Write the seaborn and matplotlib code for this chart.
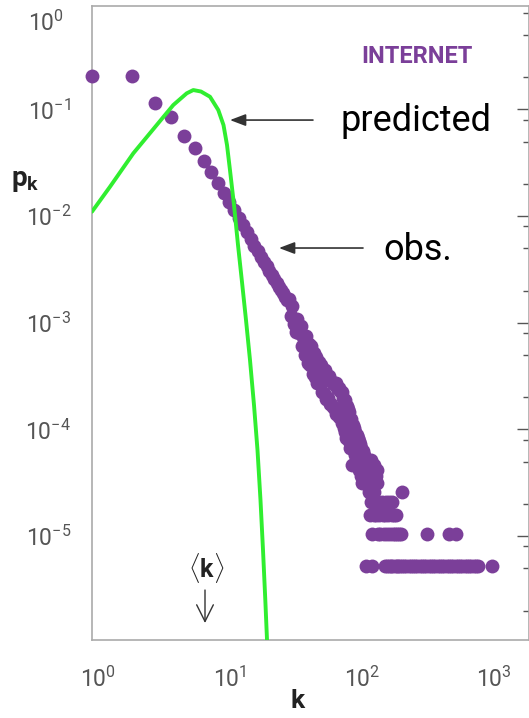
import numpy as np
import pandas as pd
import seaborn as sns
import matplotlib.pyplot as plt
from matplotlib.ticker import FixedLocator, LogLocator, NullFormatter
from matplotlib.transforms import ScaledTranslation

# ----------------------------
# Data
# ----------------------------
N_NODES = 192244  # nodes in the map; one node = the lowest row of dots

# every degree from 1 to 119 is present: number of nodes with that degree
body_degree = np.arange(1, 120)
body_count = [
    39400, 39900, 22170, 16400, 10810, 8280, 6290, 4960, 3940, 3176,   # 1-10
    2582, 2187, 1836, 1584, 1371, 1163, 1010, 900, 790, 715,            # 11-20
    650, 590, 540, 495, 455, 420, 390, 362, 338, 315,                   # 21-30
    319, 223, 274, 189, 156, 207, 154, 180, 117, 141,                   # 31-40
    95, 145, 80, 122, 78, 117, 63, 100, 60, 92,                         # 41-50
    52, 83, 51, 78, 43, 69, 42, 70, 37, 60,                             # 51-60
    38, 61, 33, 56, 33, 54, 31, 51, 30, 52,                             # 61-70
    27, 47, 29, 47, 25, 44, 25, 43, 22, 38,                             # 71-80
    20, 36, 18, 16, 32, 17, 30, 15, 28, 13,                             # 81-90
    24, 18, 13, 9, 21, 12, 20, 11, 18, 10,                              # 91-100
    17, 9, 16, 12, 15, 8, 14, 11, 7, 13,                                # 101-110
    9, 6, 12, 8, 11, 6, 10, 7, 9,                                       # 111-119
]

# sparse tail (k >= 120), only the degrees that occur
tail_degree = [
    120, 121, 122, 123, 124, 125, 126, 127, 128, 129, 130, 131, 132, 133,
    134, 135, 136, 137, 138, 139, 140, 142, 143, 144, 145, 146, 148, 150,
    152, 158, 160, 163, 166, 167, 169, 171, 172, 175, 177, 178, 181, 184,
    186, 187, 189, 191, 193, 196, 198, 201, 203, 206, 209, 213, 216, 218,
    222, 224, 233, 241, 251, 260, 270, 281, 292, 304, 316, 328, 341, 347,
    355, 369, 384, 399, 415, 432, 449, 467, 485, 504, 505, 525, 546, 568,
    569, 591, 614, 639, 664, 691, 718, 747, 777, 808, 840, 1078,
]
tail_count = [
    1, 7, 9, 6, 10, 5, 8, 3, 6, 10, 4, 9, 1, 2,
    7, 8, 3, 5, 9, 4, 6, 3, 7, 8, 6, 2, 4, 3,
    2, 4, 3, 2, 1, 3, 4, 1, 2, 3, 1, 4, 2, 1,
    3, 4, 1, 2, 3, 1, 2, 3, 1, 2, 1, 2, 1, 2,
    5, 1, 1, 1, 1, 1, 1, 1, 1, 1, 1, 1, 1, 2,
    1, 1, 1, 1, 1, 1, 1, 1, 1, 2, 1, 1, 1, 1,
    2, 1, 1, 1, 1, 1, 1, 1, 1, 1, 1, 1,
]

# predicted (Poisson) curve
pred_k = [1.0, 1.369, 2.056, 3.092, 4.129, 5.218, 5.853, 6.696, 7.834, 9.054,
          9.913, 10.54, 11.10, 11.91, 12.77, 13.69, 14.68, 15.74, 16.88, 17.94,
          18.90, 19.75, 20.56, 21.18, 21.74]
pred_pk = [0.0110, 0.01884, 0.03878, 0.07142, 0.1100, 0.1416, 0.1520, 0.1472,
           0.1315, 0.0987, 0.0714, 0.0464, 0.0270, 0.0127, 0.00535, 0.00241,
           0.00106, 4.47e-4, 1.69e-4, 6.40e-5, 2.18e-5, 7.39e-6, 2.51e-6,
           1.06e-6, 3.6e-7]

obs = pd.DataFrame({
    "k": np.concatenate([body_degree, tail_degree]),
    "count": body_count + tail_count,
})
obs["pk"] = obs["count"] / N_NODES
pred = pd.DataFrame({"k": pred_k, "pk": pred_pk})

PURPLE = "#7b3f99"
GREEN = "#30ee30"
DARK = "#333333"
TICK_TXT = "#555555"

# ----------------------------
# Style
# ----------------------------
sns.set_style("white")
plt.rcParams["font.family"] = ["Roboto", "DejaVu Sans"]
plt.rcParams["mathtext.fontset"] = "custom"
plt.rcParams["mathtext.rm"] = "Roboto"
plt.rcParams["mathtext.bf"] = "Roboto:bold"
plt.rcParams["mathtext.it"] = "Roboto:italic"

fig = plt.figure(figsize=(5.29, 7.18), dpi=100)
ax = fig.add_axes([0.1739, 0.1086, 0.8261, 0.8834])
ax.set_xscale("log")
ax.set_yscale("log")

sns.scatterplot(data=obs, x="k", y="pk", s=100, color=PURPLE, linewidth=0,
                alpha=1.0, clip_on=False, zorder=3, legend=False, ax=ax)
sns.lineplot(data=pred, x="k", y="pk", sort=False, estimator=None,
             color=GREEN, linewidth=2.8, zorder=4, legend=False, ax=ax)

ax.set_xlim(1, 2045)
ax.set_ylim(1.06e-6, 0.938)

# ticks
ax.xaxis.set_major_locator(FixedLocator([1, 10, 100, 1000]))
ax.xaxis.set_minor_locator(LogLocator(base=10, subs=np.arange(2, 10), numticks=20))
ax.yaxis.set_major_locator(FixedLocator([1e-6, 1e-5, 1e-4, 1e-3, 1e-2, 1e-1]))
ax.yaxis.set_minor_locator(LogLocator(base=10, subs=[2, 5, 8], numticks=20))
ax.xaxis.set_minor_formatter(NullFormatter())
ax.yaxis.set_minor_formatter(NullFormatter())
ax.tick_params(which="both", direction="in", top=False, right=True,
               color="#555555", labelcolor=TICK_TXT, width=1.0)
ax.tick_params(which="major", length=8.5, labelsize=16.5)
ax.tick_params(which="minor", length=4.2)
ax.tick_params(axis="y", which="major", pad=15)
ax.tick_params(axis="x", which="major", pad=19)
shift = ScaledTranslation(6 / 100, 0, fig.dpi_scale_trans)
for t in ax.xaxis.get_major_ticks():
    t.label1.set_transform(t.label1.get_transform() + shift)

for side in ["left", "right", "top", "bottom"]:
    ax.spines[side].set_color("#aaaaaa")
    ax.spines[side].set_linewidth(1.2)

# 10^0 sits just above the frame
ax.text(-0.1468, 0.972, r"$\mathdefault{10^{0}}$", transform=ax.transAxes,
        ha="left", va="center", fontsize=16.5, color=TICK_TXT, clip_on=False)

ax.set_xlabel("k", fontsize=19, fontweight="bold", color="#222222")
ax.xaxis.set_label_coords(0.471, -0.078)
ax.set_ylabel("")
fig.text(0.047, 0.749, r"$\mathbf{p}_{\mathbf{k}}$", fontsize=20,
         ha="center", va="center", color="#222222")

# annotations
ax.text(292, 0.272, "INTERNET", color=PURPLE, fontsize=17, fontweight="bold",
        ha="center", va="baseline")
ax.text(75.7, 0.0627, "predicted", fontsize=26, ha="left", va="baseline",
        color="black")
ax.annotate("", xy=(11.1, 0.0795), xytext=(47.2, 0.0795),
            arrowprops=dict(arrowstyle="-|>,head_length=0.95,head_width=0.36",
                            mutation_scale=10, color=DARK, lw=1.2,
                            shrinkA=0, shrinkB=0))
ax.text(160, 0.00387, "obs.", fontsize=26, ha="left", va="baseline",
        color="black")
ax.annotate("", xy=(26.1, 0.00502), xytext=(113, 0.00502),
            arrowprops=dict(arrowstyle="-|>,head_length=0.95,head_width=0.36",
                            mutation_scale=10, color=DARK, lw=1.2,
                            shrinkA=0, shrinkB=0))
ax.text(7.31, 4.13e-6, r"$\langle\mathbf{k}\rangle$", fontsize=18,
        ha="center", va="baseline", color="#222222")
ax.annotate("", xy=(7.18, 1.53e-6), xytext=(7.18, 3.12e-6),
            arrowprops=dict(arrowstyle="->,head_length=1.2,head_width=0.6",
                            mutation_scale=10, color=DARK, lw=1.0,
                            shrinkA=0, shrinkB=0))

plt.savefig("out.png", dpi=100)
plt.close()
